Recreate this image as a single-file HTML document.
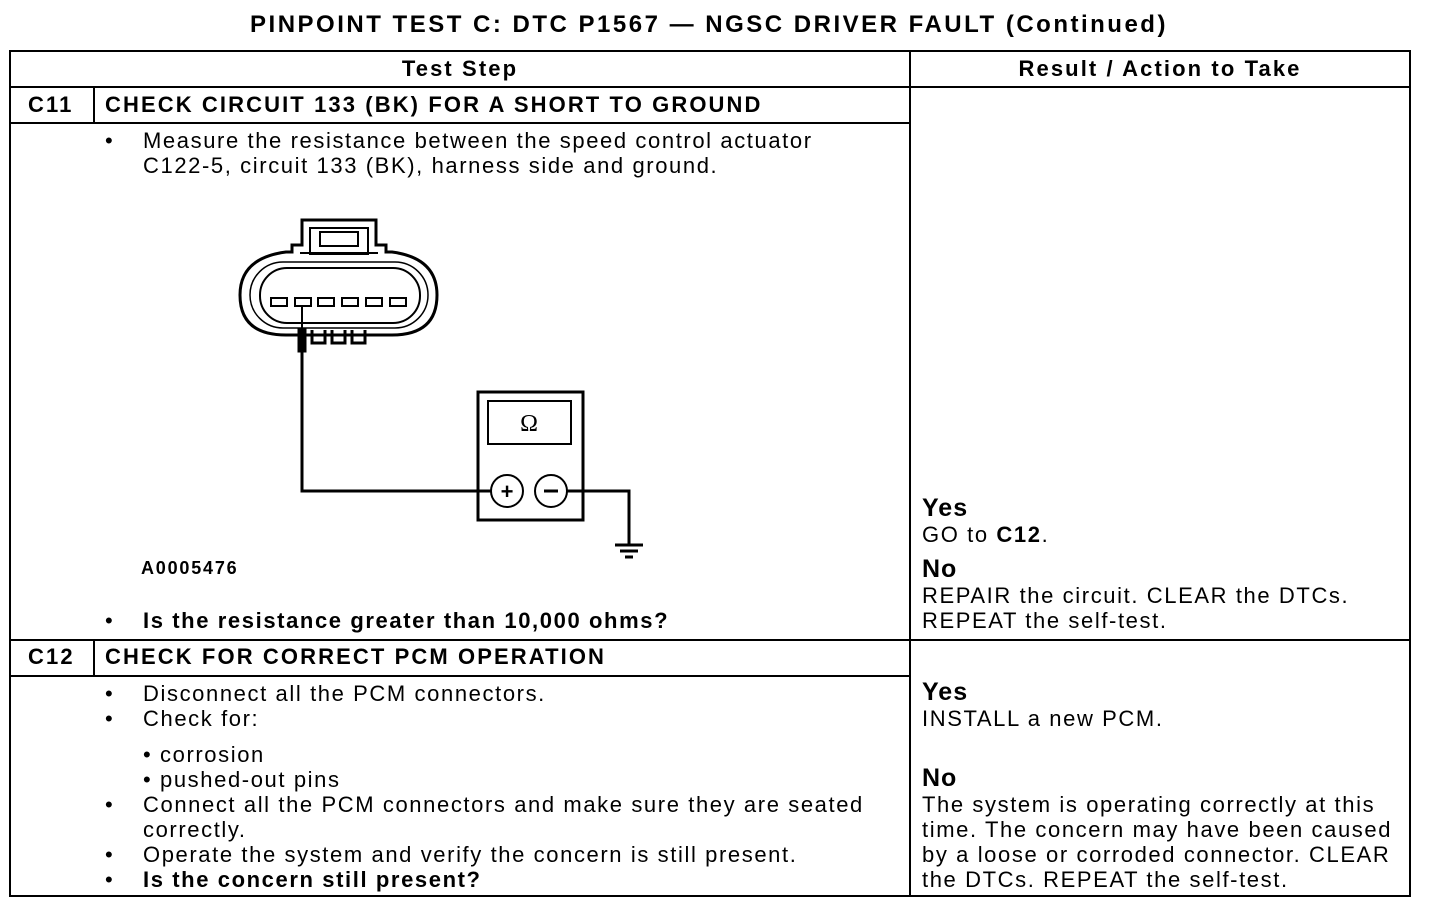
<!DOCTYPE html>
<html><head><style>
body{margin:0;background:#fff;}
.t{position:absolute;font-family:"Liberation Sans",sans-serif;font-size:22px;color:#000;white-space:nowrap;line-height:25px;letter-spacing:1.6px;}
.b{font-weight:bold;letter-spacing:2.1px;}
b{letter-spacing:1.6px;}
.q{font-weight:bold;letter-spacing:1.6px;}
</style></head><body>
<div style="position:relative;width:1456px;height:912px;overflow:hidden">
<svg width="1456" height="912" style="position:absolute;left:0;top:0">
<g stroke="#000" stroke-width="2" fill="none">
<rect x="10" y="51" width="1400" height="845"/>
<line x1="910" y1="51" x2="910" y2="896"/>
<line x1="10" y1="87" x2="1410" y2="87"/>
<line x1="10" y1="123" x2="910" y2="123"/>
<line x1="10" y1="640" x2="1410" y2="640"/>
<line x1="10" y1="676" x2="910" y2="676"/>
<line x1="94" y1="87" x2="94" y2="123"/>
<line x1="94" y1="640" x2="94" y2="676"/>
</g>
<g stroke="#000" fill="none">
<path d="M302 220 H376 V245 H386 V252 H392 Q437 258 437 295 Q437 335 392 335 H286 Q240 335 240 295 Q240 258 286 252 H292 V245 H302 Z" stroke-width="3"/>
<rect x="260" y="268" width="160" height="55" rx="27" stroke-width="2"/>
<rect x="250" y="262" width="178" height="66" rx="33" stroke-width="1.5"/>
<rect x="310" y="228" width="58" height="26" stroke-width="2"/>
<rect x="320" y="232" width="38" height="14" stroke-width="2"/>
<line x1="300" y1="253" x2="378" y2="253" stroke-width="2"/>
<g stroke-width="2"><rect x="271" y="298" width="16" height="8"/><rect x="295" y="298" width="16" height="8"/><rect x="318" y="298" width="16" height="8"/><rect x="342" y="298" width="16" height="8"/><rect x="366" y="298" width="16" height="8"/><rect x="390" y="298" width="16" height="8"/></g>
<path d="M312 330 V343 H325 V330 M332 330 V343 H345 V330 M352 330 V343 H365 V330" stroke-width="3"/>
<line x1="302" y1="306" x2="302" y2="340" stroke-width="2"/>
<rect x="298" y="328" width="8" height="24" fill="#000"/>
<path d="M302 352 V491 H491" stroke-width="3"/>
<rect x="478" y="392" width="105" height="128" stroke-width="3"/>
<rect x="488" y="401" width="83" height="43" stroke-width="2"/>
<circle cx="507" cy="491" r="16" stroke-width="2"/>
<circle cx="551" cy="491" r="16" stroke-width="2"/>
<path d="M567 491 H629 V545" stroke-width="3"/>
<line x1="615" y1="545" x2="643" y2="545" stroke-width="3"/>
<line x1="620" y1="551" x2="638" y2="551" stroke-width="3"/>
<line x1="625" y1="557" x2="633" y2="557" stroke-width="3"/>
</g>
<text x="507" y="499" font-family="Liberation Sans" font-size="22" font-weight="bold" text-anchor="middle">+</text>
<line x1="544" y1="491" x2="558" y2="491" stroke="#000" stroke-width="3"/>
<text x="529" y="431" font-family="Liberation Serif" font-size="24" text-anchor="middle">Ω</text>
</svg>
<div class="t b" style="left:0;width:1418px;text-align:center;top:12px;font-size:24px;letter-spacing:2.5px">PINPOINT TEST C: DTC P1567 — NGSC DRIVER FAULT (Continued)</div>
<div class="t b" style="left:10px;width:900px;text-align:center;top:56px">Test Step</div>
<div class="t b" style="left:910px;width:500px;text-align:center;top:56px">Result / Action to Take</div>
<div class="t b" style="left:28px;top:92px">C11</div>
<div class="t b" style="left:105px;top:92px">CHECK CIRCUIT 133 (BK) FOR A SHORT TO GROUND</div>
<div class="t" style="left:105px;top:128px">•</div>
<div class="t" style="left:143px;top:128px">Measure the resistance between the speed control actuator<br>C122-5, circuit 133 (BK), harness side and ground.</div>
<div class="t b" style="left:141px;top:556px;font-size:18px;letter-spacing:1.8px">A0005476</div>
<div class="t" style="left:105px;top:608px">•</div>
<div class="t q" style="left:143px;top:608px">Is the resistance greater than 10,000 ohms?</div>
<div class="t b" style="left:922px;top:496px;font-size:25px;letter-spacing:1px">Yes</div>
<div class="t" style="left:922px;top:522px">GO to <b>C12</b>.</div>
<div class="t b" style="left:922px;top:557px;font-size:25px;letter-spacing:1px">No</div>
<div class="t" style="left:922px;top:583px">REPAIR the circuit. CLEAR the DTCs.<br>REPEAT the self-test.</div>
<div class="t b" style="left:28px;top:644px">C12</div>
<div class="t b" style="left:105px;top:644px">CHECK FOR CORRECT PCM OPERATION</div>
<div class="t" style="left:105px;top:681px">•<br>•</div>
<div class="t" style="left:143px;top:681px">Disconnect all the PCM connectors.<br>Check for:</div>
<div class="t" style="left:143px;top:742px">• corrosion<br>• pushed-out pins</div>
<div class="t" style="left:105px;top:792px">•<br><br>•<br>•</div>
<div class="t" style="left:143px;top:792px">Connect all the PCM connectors and make sure they are seated<br>correctly.<br>Operate the system and verify the concern is still present.<br><b>Is the concern still present?</b></div>
<div class="t b" style="left:922px;top:680px;font-size:25px;letter-spacing:1px">Yes</div>
<div class="t" style="left:922px;top:706px">INSTALL a new PCM.</div>
<div class="t b" style="left:922px;top:766px;font-size:25px;letter-spacing:1px">No</div>
<div class="t" style="left:922px;top:792px">The system is operating correctly at this<br>time. The concern may have been caused<br>by a loose or corroded connector. CLEAR<br>the DTCs. REPEAT the self-test.</div>
</div>
</body></html>
